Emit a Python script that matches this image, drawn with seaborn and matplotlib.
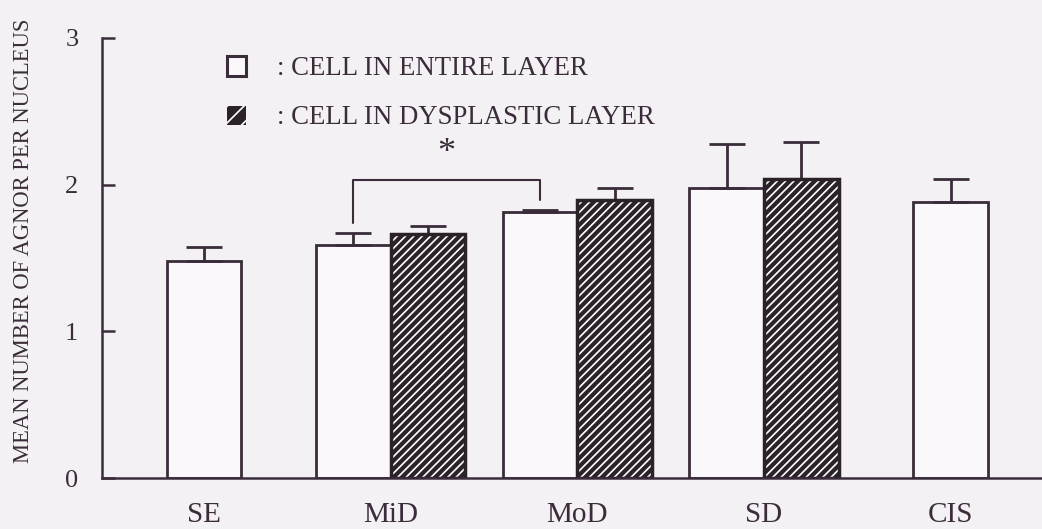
import seaborn as sns
import matplotlib.pyplot as plt
import matplotlib.patches as mpatches
import pandas as pd

# data
groups = ['SE', 'MiD', 'MoD', 'SD', 'CIS']
entire_mean = [1.48, 1.59, 1.81, 1.98, 1.88]
entire_err = [0.095, 0.08, 0.02, 0.30, 0.16]
dysp_groups = ['MiD', 'MoD', 'SD']
dysp_mean = [1.66, 1.895, 2.04]
dysp_err = [0.06, 0.085, 0.25]
y_ticks = [0, 1, 2, 3]

entire_label = ': CELL IN ENTIRE LAYER'
dysp_label = ': CELL IN DYSPLASTIC LAYER'

# significance bracket MiD vs MoD (entire layer)
bracket_pair = ('MiD', 'MoD')
bracket_top = 2.03
bracket_ends = (1.74, 1.895)
star_y = 2.21

line_c = '#3a2c3a'
bg_c = '#f4f1f4'
white_c = '#faf8fa'
dark_c = '#2b2229'

# long table, pairs side by side, singles centred
rows = []
for i, g in enumerate(groups):
    off = 0.2 if g in dysp_groups else 0.0
    rows.append({'pos': i - off, 'mean': entire_mean[i], 'err': entire_err[i], 'layer': entire_label})
for j, g in enumerate(dysp_groups):
    rows.append({'pos': groups.index(g) + 0.2, 'mean': dysp_mean[j], 'err': dysp_err[j], 'layer': dysp_label})
df = pd.DataFrame(rows)

sns.set_theme(style='white')
plt.rcParams['font.family'] = ['Liberation Serif', 'DejaVu Serif']
plt.rcParams['hatch.linewidth'] = 1.2

fig = plt.figure(figsize=(10.42, 5.29), dpi=100, facecolor=bg_c)
ax = fig.add_axes([0.0979, 0.0964, 0.9021, 0.832])
ax.set_facecolor(bg_c)

sns.barplot(
    data=df, x='pos', y='mean', hue='layer',
    hue_order=[entire_label, dysp_label],
    palette={entire_label: white_c, dysp_label: dark_c},
    native_scale=True, dodge=False, width=1.0, orient='x',
    errorbar=None, edgecolor=line_c, linewidth=2, legend=False, ax=ax
)

# hatch for dysplastic bars (white hatch, dark outline on top)
for p in ax.containers[1]:
    p.set_hatch('////')
    p.set_edgecolor('white')
    p.set_linewidth(0)
    ax.add_patch(mpatches.Rectangle(p.get_xy(), p.get_width(), p.get_height(),
                                    fill=False, ec=dark_c, lw=2.5, zorder=p.get_zorder() + 0.1))

# upper error bars
for cont, lab in zip(ax.containers[:2], [entire_label, dysp_label]):
    sub = df[df['layer'] == lab].sort_values('pos')
    xs = [p.get_x() + p.get_width() / 2 for p in cont]
    hs = [p.get_height() for p in cont]
    ax.errorbar(xs, hs, yerr=[[0] * len(hs), sub['err'].tolist()], fmt='none',
                ecolor=line_c, elinewidth=2, capsize=13, capthick=2, zorder=1)

# bracket
entire_pos = df[df['layer'] == entire_label]['pos'].tolist()
xa = entire_pos[groups.index(bracket_pair[0])]
xb = entire_pos[groups.index(bracket_pair[1])]
ax.plot([xa, xa, xb, xb], [bracket_ends[0], bracket_top, bracket_top, bracket_ends[1]],
        color=line_c, lw=1.5)
ax.text((xa + xb) / 2, star_y, '*', ha='center', va='center', fontsize=26, color=line_c)

ax.set_xlim(-0.547, 4.49)
ax.set_ylim(0, 3)
ax.set_yticks(y_ticks)
ax.set_xticks(range(len(groups)))
ax.set_xticklabels(groups)
ax.set_xlabel('')
ax.set_ylabel('MEAN NUMBER OF AGNOR PER NUCLEUS', fontsize=16.3, color=line_c)
ax.yaxis.set_label_coords(-0.072, 0.54)
ax.tick_params(axis='y', direction='in', length=9, width=1.8, colors=line_c,
               labelsize=19, pad=17, left=True)
ax.tick_params(axis='x', length=0, labelsize=21, pad=17, colors=line_c)
for s in ['top', 'right']:
    ax.spines[s].set_visible(False)
for s in ['left', 'bottom']:
    ax.spines[s].set_color(line_c)
    ax.spines[s].set_linewidth(1.8)

handles = [
    mpatches.Patch(fc=white_c, ec=line_c, lw=2.2),
    mpatches.Patch(fc=dark_c, ec='white', lw=0, hatch='//'),
]
ax.legend(handles, [entire_label, dysp_label], loc='upper left',
          bbox_to_anchor=(0.133, 0.958), frameon=False, fontsize=19.3,
          handlelength=0.72, handleheight=0.72, handletextpad=1.15,
          labelspacing=0.9, borderpad=0, borderaxespad=0, labelcolor=line_c)

plt.savefig('out.png', dpi=100, facecolor=bg_c)
